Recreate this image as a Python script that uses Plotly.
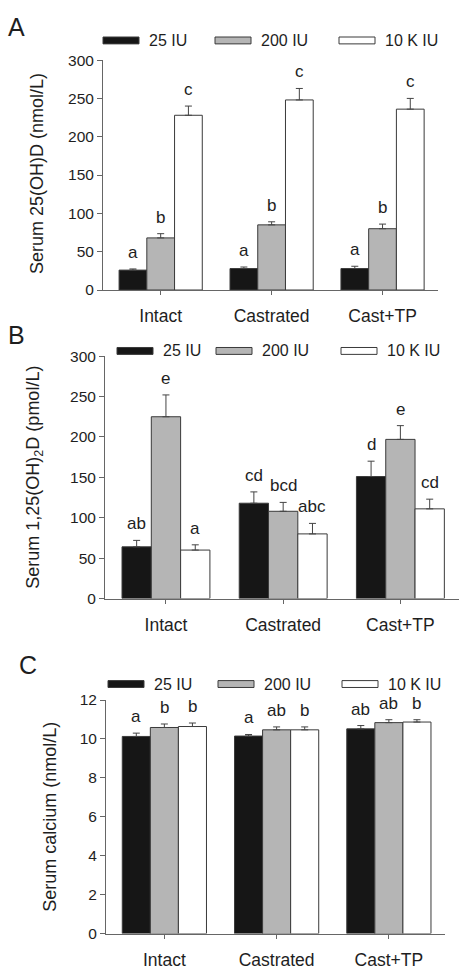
import plotly.graph_objects as go

categories = ["Intact", "Castrated", "Cast+TP"]
series_names = ["25 IU", "200 IU", "10 K IU"]
series_colors = ["#161616", "#b5b5b5", "#ffffff"]

# Panel A: Serum 25(OH)D (nmol/L)
a_vals = [[26, 28, 28], [68, 85, 80], [228, 248, 236]]
a_errs = [[1.5, 2, 3], [5.5, 4, 6], [12, 15, 14]]
a_letters = [["a", "a", "a"], ["b", "b", "b"], ["c", "c", "c"]]
a_ticks = [0, 50, 100, 150, 200, 250, 300]

# Panel B: Serum 1,25(OH)2D (pmol/L)
b_vals = [[64, 118, 151], [225, 108, 197], [60, 80, 111]]
b_errs = [[8, 14, 19], [27, 11, 17], [6.5, 13, 12]]
b_letters = [["ab", "cd", "d"], ["e", "bcd", "e"], ["a", "abc", "cd"]]
b_ticks = [0, 50, 100, 150, 200, 250, 300]

# Panel C: Serum calcium (nmol/L)
c_vals = [[10.13, 10.15, 10.52], [10.59, 10.47, 10.84], [10.64, 10.47, 10.87]]
c_errs = [[0.17, 0.08, 0.17], [0.18, 0.15, 0.15], [0.18, 0.15, 0.12]]
c_letters = [["a", "a", "ab"], ["b", "ab", "ab"], ["b", "b", "b"]]
c_ticks = [0, 2, 4, 6, 8, 10, 12]

W, H = 466, 976
FONT = "Liberation Sans, Arial, sans-serif"
TXT = "#1e1e1e"
AX = "#666666"

panels = [
    dict(vals=a_vals, errs=a_errs, letters=a_letters, ticks=a_ticks, rng=[0, 300],
         title="Serum 25(OH)D (nmol/L)", title_xy=(37, 168), xdom=[103, 438], ydom=[286, 52],
         label="A", label_xy=(16, 18), leg_y=32, leg_x=[103, 215, 339]),
    dict(vals=b_vals, errs=b_errs, letters=b_letters, ticks=b_ticks, rng=[0, 300],
         title="Serum 1,25(OH)<sub>2</sub>D (pmol/L)", title_xy=(35, 477),
         xdom=[105, 459], ydom=[600, 353.3],
         label="B", label_xy=(16, 332), leg_y=348, leg_x=[117, 216, 341]),
    dict(vals=c_vals, errs=c_errs, letters=c_letters, ticks=c_ticks, rng=[0, 12],
         title="Serum calcium (nmol/L)", title_xy=(50, 822), xdom=[106, 445], ydom=[941, 703.3],
         label="C", label_xy=(28, 668), leg_y=687, leg_x=[108, 218, 342]),
]

fig = go.Figure()
annotations = []
shapes = []
bar_w = 0.25

for p_i, p in enumerate(panels):
    sfx = "" if p_i == 0 else str(p_i + 1)
    xa, ya = "x" + sfx, "y" + sfx
    for s_i, name in enumerate(series_names):
        fig.add_trace(go.Bar(
            x=categories, y=p["vals"][s_i], name=name,
            marker=dict(color=series_colors[s_i], line=dict(color="#3a3a3a", width=1)),
            error_y=dict(type="data", symmetric=False, array=p["errs"][s_i],
                         arrayminus=[0] * len(categories), color="#444444",
                         thickness=1, width=3.5),
            xaxis=xa, yaxis=ya, showlegend=False,
        ))
        for c_i in range(len(categories)):
            annotations.append(dict(
                x=c_i + (s_i - 1) * bar_w, y=p["vals"][s_i][c_i] + p["errs"][s_i][c_i],
                xref=xa, yref=ya, text=p["letters"][s_i][c_i], showarrow=False,
                yanchor="bottom", yshift=5,
                font=dict(family=FONT, size=17, color=TXT)))
    xd = [p["xdom"][0] / W, p["xdom"][1] / W]
    yd = [1 - p["ydom"][0] / H, 1 - p["ydom"][1] / H]
    axis_common = dict(showline=True, linecolor=AX, linewidth=1, ticks="outside",
                       tickcolor=AX, showgrid=False, zeroline=False)
    fig.update_layout(**{
        "xaxis" + sfx: dict(domain=xd, anchor=ya, range=[-0.52, 2.5], ticklen=4,
                            ticklabelstandoff=6,
                            tickfont=dict(family=FONT, size=17.5, color=TXT),
                            **axis_common),
        "yaxis" + sfx: dict(domain=yd, anchor=xa, range=p["rng"], tickvals=p["ticks"],
                            ticklen=5, tickfont=dict(family=FONT, size=15.5, color=TXT),
                            **axis_common),
    })
    # y-axis title
    annotations.append(dict(x=p["title_xy"][0] / W, y=1 - p["title_xy"][1] / H,
                            xref="paper", yref="paper", text=p["title"], showarrow=False,
                            textangle=-90, xanchor="center", yanchor="middle",
                            font=dict(family=FONT, size=18, color=TXT)))
    # panel label
    annotations.append(dict(x=p["label_xy"][0] / W, y=1 - p["label_xy"][1] / H,
                            xref="paper", yref="paper", text=p["label"], showarrow=False,
                            xanchor="center", yanchor="middle",
                            font=dict(family=FONT, size=25, color=TXT)))
    # legend swatches + text
    for s_i, name in enumerate(series_names):
        x0 = p["leg_x"][s_i]
        yc = p["leg_y"]
        shapes.append(dict(type="rect", xref="paper", yref="paper",
                           x0=x0 / W, x1=(x0 + 36) / W,
                           y0=1 - (yc + 3.5) / H, y1=1 - (yc - 3.5) / H,
                           fillcolor=series_colors[s_i], line=dict(color="#3a3a3a", width=1)))
        annotations.append(dict(x=(x0 + 44) / W, y=1 - yc / H, xref="paper", yref="paper",
                                text=name, showarrow=False, xanchor="left", yanchor="middle",
                                font=dict(family=FONT, size=16, color=TXT)))

fig.update_layout(
    width=W, height=H, margin=dict(l=0, r=0, t=0, b=0),
    paper_bgcolor="white", plot_bgcolor="white",
    barmode="group", bargap=0.25, bargroupgap=0,
    annotations=annotations, shapes=shapes,
    font=dict(family=FONT, color=TXT),
)

fig.write_html("out.html", config={"displayModeBar": False},
               post_script="document.body.style.margin='0';document.body.style.overflow='hidden';")
